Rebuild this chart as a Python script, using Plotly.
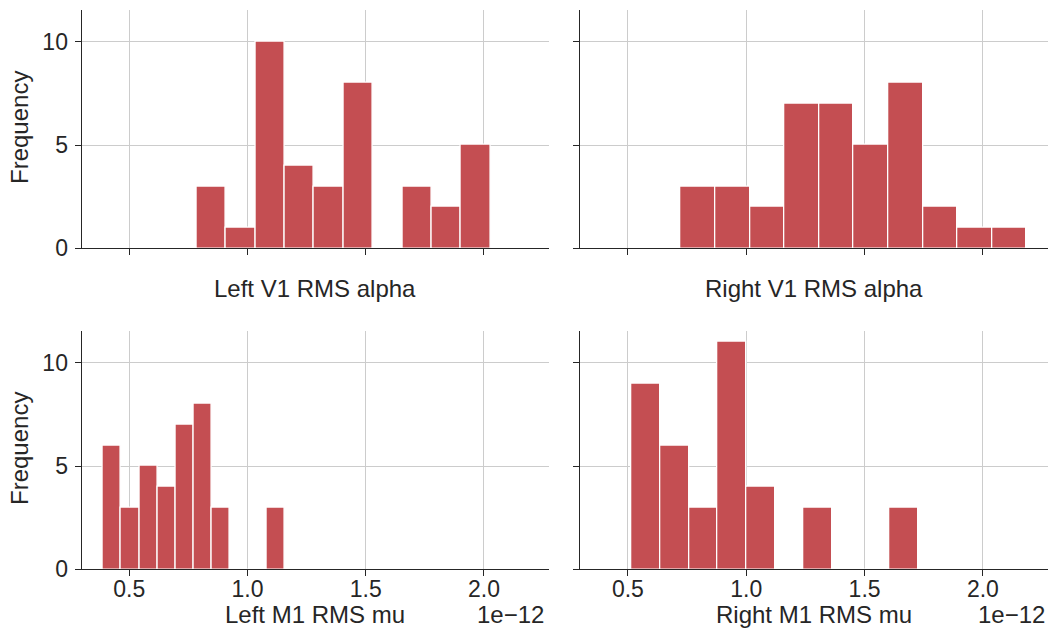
import numpy as np
import plotly.graph_objects as go

# ---- data (values in units of 1e-12) ----
left_v1_counts = [3, 1, 10, 4, 3, 8, 0, 3, 2, 5]
left_v1_range = [0.785, 2.027]
right_v1_counts = [3, 3, 2, 7, 7, 5, 8, 2, 1, 1]
right_v1_range = [0.723, 2.185]
left_m1_counts = [6, 3, 5, 4, 7, 8, 3, 0, 0, 3]
left_m1_range = [0.389, 1.156]
right_m1_counts = [9, 6, 3, 11, 4, 0, 3, 0, 0, 3]
right_m1_range = [0.516, 1.726]

x_tick_vals = [0.5, 1.0, 1.5, 2.0]
x_tick_text = ["0.5", "1.0", "1.5", "2.0"]
y_tick_vals = [0, 5, 10]
y_tick_text = ["0", "5", "10"]
titles = ["Left V1 RMS alpha", "Right V1 RMS alpha", "Left M1 RMS mu", "Right M1 RMS mu"]

BAR = "#c44e52"
INK = "#262626"
GRID = "#cccccc"
FONT = "Liberation Sans, Arial, sans-serif"
W, H = 1051, 637

panels = [
    (left_v1_counts, left_v1_range),
    (right_v1_counts, right_v1_range),
    (left_m1_counts, left_m1_range),
    (right_m1_counts, right_m1_range),
]

fig = go.Figure()
for i, (counts, rng) in enumerate(panels):
    edges = np.linspace(rng[0], rng[1], len(counts) + 1)
    centers = (edges[:-1] + edges[1:]) / 2
    widths = np.diff(edges)
    sfx = "" if i == 0 else str(i + 1)
    fig.add_trace(go.Bar(
        x=centers, y=counts, width=widths,
        marker=dict(color=BAR, line=dict(color="white", width=1.3)),
        xaxis="x" + sfx, yaxis="y" + sfx, showlegend=False,
    ))

px = lambda v: v / W
py = lambda v: 1 - v / H
xdoms = [[px(81.7), px(549)], [px(580.3), px(1048)]]
ydom_top = [py(248.3), py(9.7)]
ydom_bot = [py(569.3), py(330.7)]

TS = 23
common_x = dict(range=[0.299, 2.275], tickvals=x_tick_vals, ticktext=x_tick_text,
                showline=True, linecolor=INK, linewidth=1.3, ticks="outside",
                ticklen=6, tickwidth=1.3, tickcolor=INK, showgrid=True,
                gridcolor=GRID, gridwidth=1.2, zeroline=False, automargin=False,
                tickfont=dict(family=FONT, size=TS, color=INK))
common_y = dict(range=[0, 11.55], tickvals=y_tick_vals, ticktext=y_tick_text,
                showline=True, linecolor=INK, linewidth=1.3, ticks="outside",
                ticklen=6, tickwidth=1.3, tickcolor=INK, showgrid=True,
                gridcolor=GRID, gridwidth=1.2, zeroline=False, automargin=False,
                tickfont=dict(family=FONT, size=TS, color=INK))

layout = dict(width=W, height=H, margin=dict(l=0, r=0, t=0, b=0, autoexpand=False),
              paper_bgcolor="white", plot_bgcolor="white", bargap=0)
spec = [(xdoms[0], ydom_top, True, False), (xdoms[1], ydom_top, False, False),
        (xdoms[0], ydom_bot, True, True), (xdoms[1], ydom_bot, False, True)]
for i, (xd, yd, ylab, xlab) in enumerate(spec):
    sfx = "" if i == 0 else str(i + 1)
    layout["xaxis" + sfx] = dict(common_x, domain=xd, anchor="y" + sfx,
                                 showticklabels=xlab, ticklabelstandoff=-7)
    layout["yaxis" + sfx] = dict(common_y, domain=yd, anchor="x" + sfx,
                                 showticklabels=ylab, ticklabelstandoff=2)

ann = []
fs = 24
for yc in (128, 449):
    ann.append(dict(text="Frequency", x=px(20), y=py(yc), xref="paper", yref="paper",
                    textangle=-90, showarrow=False, xanchor="center", yanchor="middle",
                    font=dict(family=FONT, size=fs, color=INK)))
title_pos = [(315, 288), (814, 288), (315, 614), (814, 614)]
for t, (xc, yc) in zip(titles, title_pos):
    ann.append(dict(text=t, x=px(xc), y=py(yc), xref="paper", yref="paper",
                    showarrow=False, xanchor="center", yanchor="middle",
                    font=dict(family=FONT, size=fs, color=INK)))
for xr in (546, 1047):
    ann.append(dict(text="1e\u221212", x=px(xr), y=py(614), xref="paper", yref="paper",
                    showarrow=False, xanchor="right", yanchor="middle",
                    font=dict(family=FONT, size=fs, color=INK)))
layout["annotations"] = ann

fig.update_layout(**layout)
fig.write_html("out.html")
